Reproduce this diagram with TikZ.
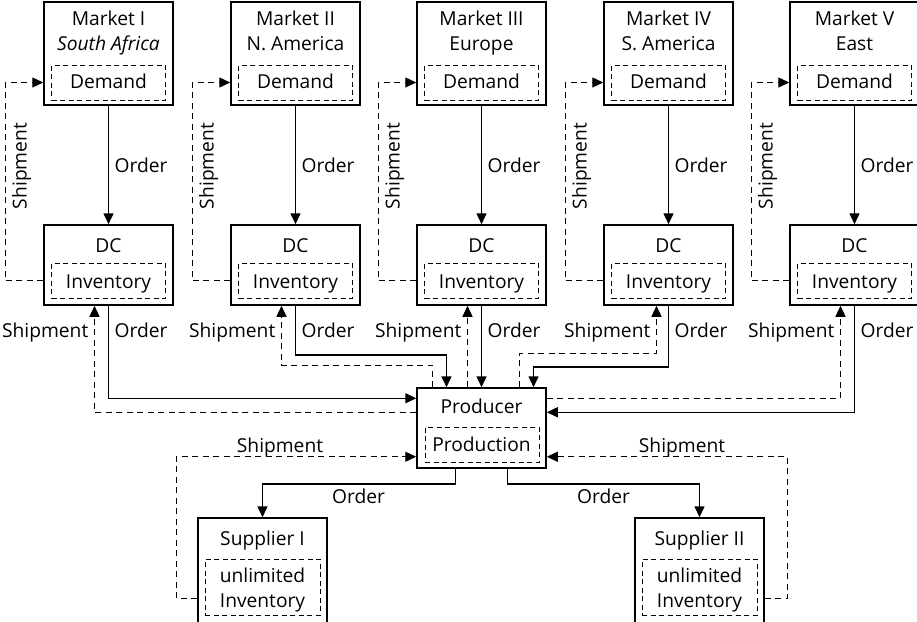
\documentclass[tikz,border=0pt]{standalone}
\usepackage{fontspec}
\setmainfont{Open Sans}
\usetikzlibrary{arrows.meta,calc}
\begin{document}
\begin{tikzpicture}[x=1pt,y=-1pt,
  box/.style={draw, line width=1.5pt, minimum width=129pt, inner sep=0pt},
  inbox/.style={draw, line width=0.9pt, dash pattern=on 5pt off 3.5pt, minimum width=114pt, minimum height=35pt, inner sep=0pt},
  txt/.style={anchor=base, inner sep=0pt, font=\fontsize{19.2}{22}\selectfont},
  tip/.style={-{Triangle[length=11pt,width=10pt]}},
  ord/.style={line width=1.5pt, tip},
  ship/.style={line width=1.2pt, dash pattern=on 6pt off 4.5pt, tip},
]
\useasboundingbox (0,0) rectangle (917,621);

% markets and DCs
\foreach \i/\c/\ttl/\sub in {1/108.5/Market I/\textit{South Africa}, 2/295.5/Market II/N. America, 3/481.5/Market III/Europe, 4/668.5/Market IV/S. America, 5/854.5/Market V/East} {
  \node[box, minimum height=103pt] (m\i) at (\c,53.5) {};
  \node[inbox] (d\i) at (\c,82.5) {};
  \node[txt] (mt\i) at (\c,25) {\ttl};
  \node[txt] (ms\i) at (\c,50) {\sub};
  \node[txt] (dt\i) at (\c,88) {Demand};
  \node[box, minimum height=80pt] (dc\i) at (\c,265) {};
  \node[inbox] (iv\i) at (\c,280.5) {};
  \node[txt] (dct\i) at (\c,252) {DC};
  \node[txt] (ivt\i) at (\c,288) {Inventory};
  \draw[ord] (m\i.south) -- (dc\i.north);
  \node[txt, anchor=base west] (ol\i) at ({\c+6},172) {Order};
  \draw[ship] (dc\i.west |- iv\i.center) -- ++(-38,0) |- (m\i.west |- d\i.center);
  \node[txt, rotate=90] (sl\i) at ({\c-82},166) {Shipment};
}

% producer
\node[box, minimum height=80pt] (p) at (481.5,428) {};
\node[inbox] (pi) at (482,444.5) {};
\node[txt] (pt) at (481.5,413) {Producer};
\node[txt] (pit) at (481.5,451) {Production};

% DC <-> producer
\draw[ord] (dc1.south) |- ($(p.north west)+(0,11)$);
\draw[ship] ($(p.north west)+(0,25)$) -| ($(dc1.south)+(-14,0)$);
\draw[ord] (dc2.south) -- ++(0,49) -| ($(p.north)+(-35,0)$);
\draw[ship] ($(p.north)+(-49,0)$) -- ++(0,-22) -| ($(dc2.south)+(-14,0)$);
\draw[ord] (dc3.south) -- (p.north);
\draw[ship] ($(p.north)+(-14,0)$) -- ($(dc3.south)+(-14,0)$);
\draw[ord] (dc4.south) -- ++(0,61) -| ($(p.north)+(52,0)$);
\draw[ship] ($(p.north)+(38,0)$) -- ++(0,-34) -| ($(dc4.south)+(-12,0)$);
\draw[ord] (dc5.south) |- ($(p.north east)+(0,25)$);
\draw[ship] ($(p.north east)+(0,11)$) -| ($(dc5.south)+(-14,0)$);

\foreach \i/\s/\o in {1/94.5/108.5, 2/281.5/295.5, 3/467.5/481.5, 4/656.5/668.5, 5/840.5/854.5} {
  \node[txt, anchor=base east] (bs\i) at ({\s-6},337) {Shipment};
  \node[txt, anchor=base west] (bo\i) at ({\o+6},337) {Order};
}

% suppliers
\foreach \i/\c/\n in {1/262.5/Supplier I, 2/699.5/Supplier II} {
  \node[box, minimum width=129pt, minimum height=106pt] (s\i) at (\c,571) {};
  \node[inbox, minimum width=115pt, minimum height=56pt] (si\i) at (\c,587) {};
  \node[txt] (st\i) at (\c,545) {\n};
  \node[txt] (su\i) at (\c,582) {unlimited};
  \node[txt] (sv\i) at (\c,607) {Inventory};
}
\draw[ord] ($(p.south)+(-26,0)$) -- ++(0,15) -| (s1.north);
\draw[ord] ($(p.south)+(26,0)$) -- ++(0,15) -| (s2.north);
\draw[ship] ($(s1.north west)+(0,81)$) -- ++(-21,0) |- ($(p.south west)+(0,-12)$);
\draw[ship] ($(s2.north east)+(0,81)$) -- ++(23,0) |- ($(p.south east)+(0,-12)$);
\node[txt] (ss1) at (280,452) {Shipment};
\node[txt] (ss2) at (682,452) {Shipment};
\node[txt] (so1) at (358.5,503) {Order};
\node[txt] (so2) at (603.5,503) {Order};
\end{tikzpicture}
\end{document}
